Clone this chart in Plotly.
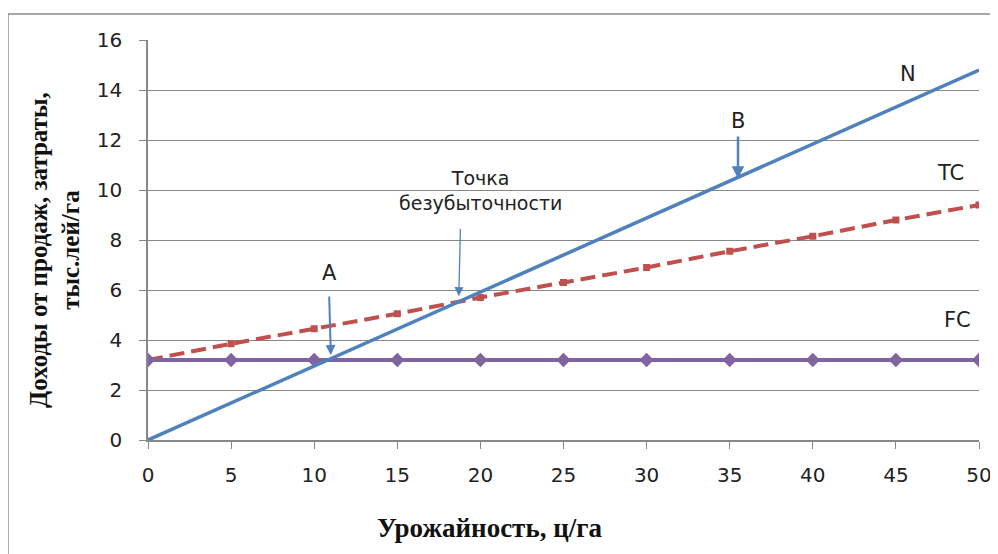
import plotly.graph_objects as go

x_vals = [0, 5, 10, 15, 20, 25, 30, 35, 40, 45, 50]
n_vals = [0, 1.48, 2.96, 4.44, 5.92, 7.4, 8.88, 10.36, 11.84, 13.32, 14.8]
tc_vals = [3.2, 3.85, 4.45, 5.05, 5.7, 6.3, 6.9, 7.55, 8.15, 8.8, 9.4]
fc_vals = [3.2] * 11
y_ticks = [0, 2, 4, 6, 8, 10, 12, 14, 16]

fig = go.Figure()
fig.add_trace(go.Scatter(x=x_vals, y=tc_vals, mode="lines+markers", name="TC",
                         line=dict(color="#C0504D", width=4, dash="15px,7px"),
                         marker=dict(symbol="square", size=7, color="#C0504D")))
fig.add_trace(go.Scatter(x=x_vals, y=fc_vals, mode="lines+markers", name="FC",
                         line=dict(color="#8064A2", width=4),
                         marker=dict(symbol="diamond", size=11, color="#8064A2")))
fig.add_trace(go.Scatter(x=x_vals, y=n_vals, mode="lines", name="N",
                         line=dict(color="#4F81BD", width=3.5)))

for txt, xx, yy, sz in [("N", 45.7, 14.65, 21), ("TC", 48.3, 10.7, 21),
                        ("FC", 48.7, 4.8, 21), ("B", 35.5, 12.75, 21),
                        ("A", 10.9, 6.7, 21),
                        ("Точка<br>безубыточности", 20.0, 10.0, 19)]:
    fig.add_annotation(x=xx, y=yy, text=txt, showarrow=False,
                       font=dict(family="DejaVu Sans", size=sz, color="#222222"),
                       xref="x", yref="y")

for (x0, y0, x1, y1, w) in [(35.5, 12.2, 35.5, 10.45, 2.5),
                            (10.9, 5.8, 11.0, 3.4, 2.0),
                            (18.8, 8.5, 18.7, 5.75, 1.3)]:
    fig.add_annotation(x=x1, y=y1, ax=x0, ay=y0, xref="x", yref="y",
                       axref="x", ayref="y", showarrow=True, arrowhead=2,
                       arrowsize=1.4 if w < 2 else 1.0, arrowwidth=w,
                       arrowcolor="#4F81BD", text="")

fig.add_annotation(xref="paper", yref="paper", x=-0.112, y=0.475,
                   xanchor="center", yanchor="middle",
                   text="<b>Доходы от продаж, затраты,<br>тыс.лей/га</b>",
                   textangle=-90, showarrow=False,
                   font=dict(family="Liberation Serif", size=25, color="#111111"))
fig.add_annotation(xref="paper", yref="paper", x=0.411, y=-0.22,
                   xanchor="center", yanchor="middle",
                   text="<b>Урожайность, ц/га</b>", showarrow=False,
                   font=dict(family="Liberation Serif", size=27, color="#111111"))

fig.add_shape(type="rect", xref="paper", yref="paper",
              x0=-0.1685, y0=-0.5, x1=1.1, y1=1.065,
              line=dict(color="#8a8a8a", width=1.5), fillcolor="rgba(0,0,0,0)",
              layer="below")

fig.update_layout(
    width=998, height=554,
    margin=dict(l=140, r=27, t=32, b=122),
    paper_bgcolor="white", plot_bgcolor="white",
    showlegend=False,
    font=dict(family="DejaVu Sans", size=20, color="#222222"),
)
fig.update_xaxes(range=[0, 50], tickvals=x_vals, ticks="outside", ticklen=7,
                 tickcolor="#888888", showline=True, linecolor="#888888",
                 linewidth=1.5, showgrid=False, zeroline=False,
                 tickfont=dict(size=20), ticklabelstandoff=9)
fig.update_yaxes(range=[0, 16], tickvals=y_ticks, ticks="outside", ticklen=7,
                 tickcolor="#888888", showline=True, linecolor="#888888",
                 linewidth=1.5, showgrid=True, gridcolor="#888888", gridwidth=1.2,
                 zeroline=False, tickfont=dict(size=20), ticklabelstandoff=13)

fig.write_html("out.html")
